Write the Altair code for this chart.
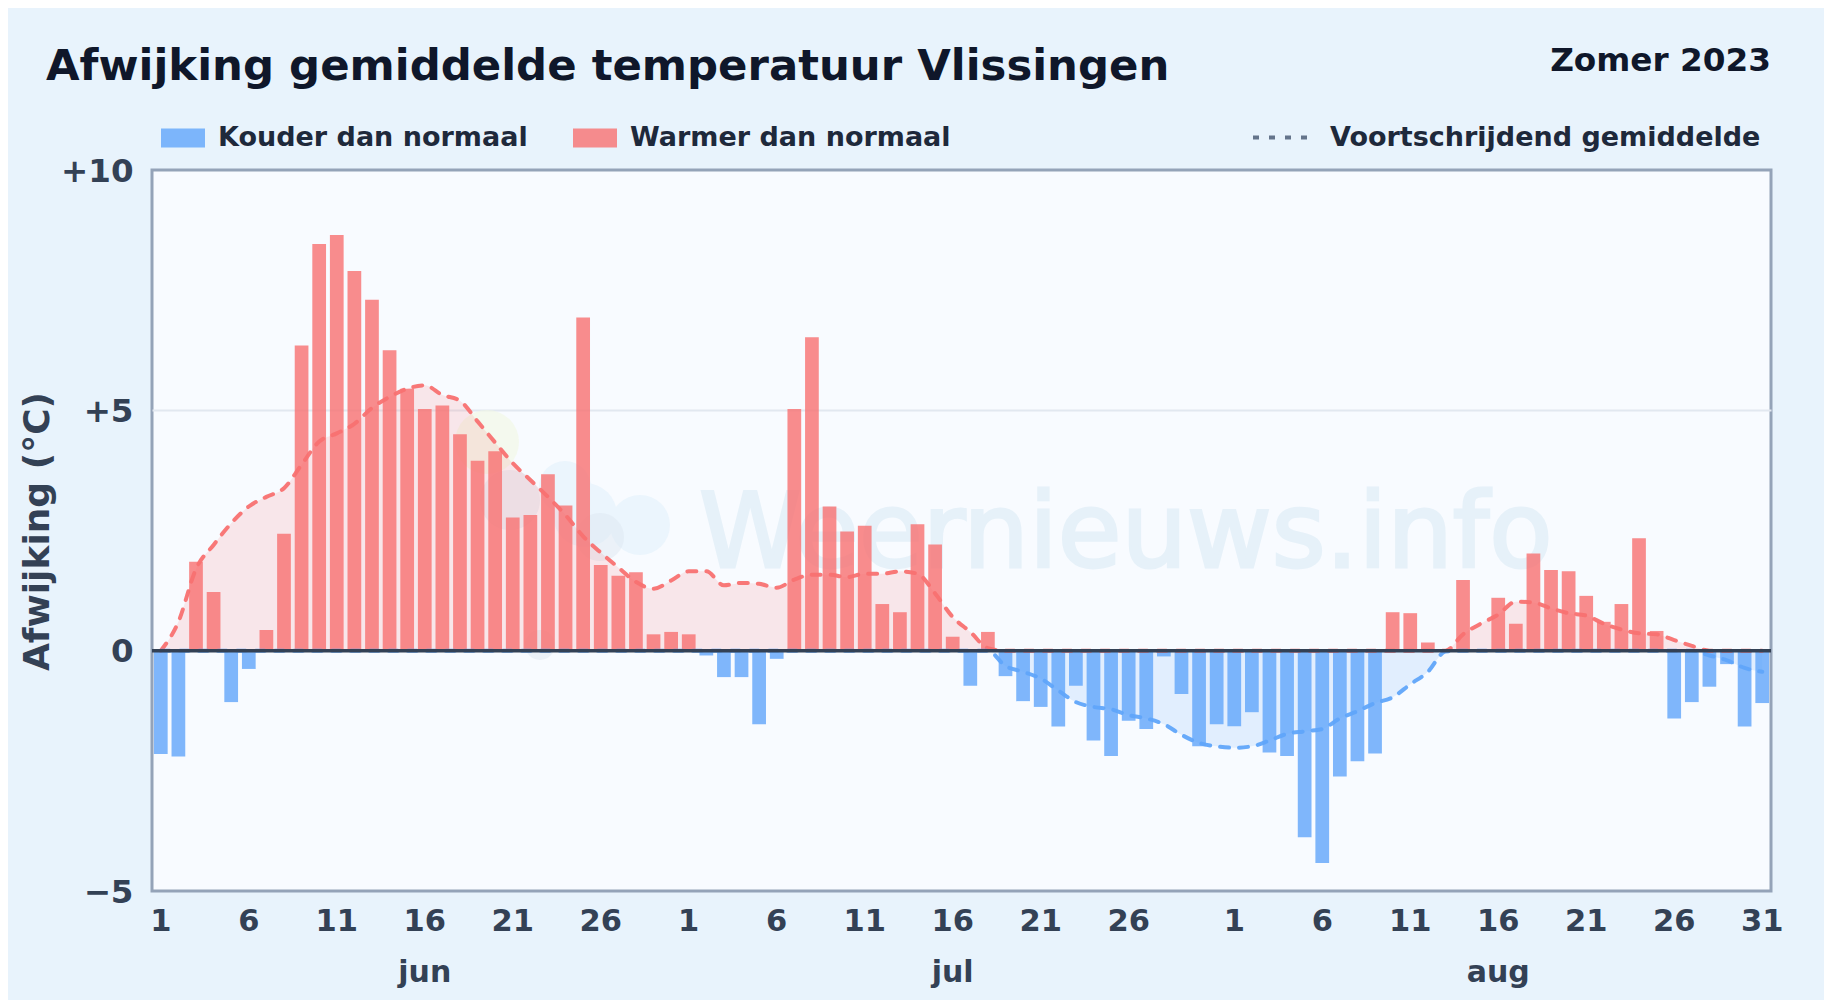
import altair as alt
import pandas as pd

FONT = "DejaVu Sans"

june = [-2.15, -2.2, 1.85, 1.22, -1.07, -0.38, 0.43, 2.43, 6.35, 8.46, 8.65, 7.9, 7.3, 6.25, 5.45,
        5.03, 5.1, 4.5, 3.95, 4.15, 2.77, 2.82, 3.67, 3.02, 6.93, 1.78, 1.56, 1.63, 0.34, 0.39]
july = [0.34, -0.1, -0.55, -0.55, -1.53, -0.17, 5.03, 6.52, 3.0, 2.48, 2.6, 0.97, 0.8, 2.63, 2.21, 0.29,
        -0.73, 0.39, -0.53, -1.05, -1.17, -1.58, -0.73, -1.87, -2.19, -1.46, -1.63, -0.12, -0.9, -1.99, -1.53]
august = [-1.57, -1.28, -2.12, -2.19, -3.88, -4.42, -2.62, -2.3, -2.14, 0.8, 0.78, 0.17, 0.0, 1.47, 0.0, 1.1,
          0.56, 2.02, 1.68, 1.65, 1.14, 0.6, 0.97, 2.34, 0.41, -1.41, -1.07, -0.75, -0.28, -1.58, -1.09]
ma_june = [0.0, 0.6, 1.7, 2.2, 2.65, 3.0, 3.2, 3.38, 3.87, 4.35, 4.52, 4.72, 5.05, 5.28, 5.45,
           5.52, 5.32, 5.2, 4.77, 4.33, 3.9, 3.55, 3.2, 2.82, 2.38, 2.04, 1.73, 1.43, 1.29, 1.46]
ma_july = [1.65, 1.65, 1.36, 1.41, 1.39, 1.31, 1.48, 1.58, 1.58, 1.53, 1.6, 1.6, 1.65, 1.6, 1.19, 0.7,
           0.39, 0.05, -0.32, -0.44, -0.58, -0.83, -1.07, -1.17, -1.22, -1.34, -1.41, -1.53, -1.75, -1.92, -1.99]
ma_august = [-2.02, -1.99, -1.87, -1.73, -1.68, -1.63, -1.41, -1.26, -1.09, -0.97, -0.7, -0.44, -0.02, 0.34, 0.56,
             0.75, 1.02, 1.0, 0.88, 0.78, 0.73, 0.56, 0.44, 0.36, 0.34, 0.22, 0.1, -0.1, -0.2, -0.36, -0.44]
month_names = ["jun", "jul", "aug"]
month_lengths = [30, 31, 31]
legend_bars = ["Kouder dan normaal", "Warmer dan normaal"]
legend_line = "Voortschrijdend gemiddelde"

keys, values, ma = [], [], []
for m, n, vals, avg in zip(month_names, month_lengths, [june, july, august], [ma_june, ma_july, ma_august]):
    for d in range(n):
        keys.append(f"{m}-{d + 1}")
    values += vals
    ma += avg

df = pd.DataFrame({"day": keys, "value": values, "ma": ma})
df["kind"] = [legend_bars[1] if v >= 0 else legend_bars[0] for v in values]
df["ma_pos"] = df["ma"].clip(lower=0)
df["ma_neg"] = df["ma"].clip(upper=0)
df["series"] = legend_line

tick_keys = [k for k in keys if (int(k.split("-")[1]) - 1) % 5 == 0 and not (k == "jul-31")]
months_df = pd.DataFrame({"day": [f"{m}-16" for m in month_names], "label": month_names})

RED, BLUE = "#f87171", "#60a5fa"
LABEL = "#334155"

x_scale = alt.Scale(type="band", domain=keys, paddingInner=0.22, paddingOuter=0.11)
y_scale = alt.Scale(domain=[-5, 10], nice=False)
x_axis = alt.Axis(
    values=tick_keys, labelExpr="split(datum.value, '-')[1]", labelAngle=0, labelOverlap=False,
    labelFlush=False, ticks=False, domain=False, grid=False, labelPadding=15,
    labelFontSize=30.5, labelFont=FONT, labelFontWeight="bold", labelColor=LABEL)
y_axis = alt.Axis(
    values=[-5, 0, 5, 10],
    labelExpr="datum.value > 0 ? '+' + datum.value : (datum.value < 0 ? '\u2212' + abs(datum.value) : '0')",
    ticks=False, domain=False, grid=True,
    gridColor=alt.condition("datum.value == 5", alt.value("#e2e8f0"), alt.value("transparent")),
    gridWidth=2, labelPadding=19, labelOffset=1,
    labelFontSize=32.5, labelFont=FONT, labelFontWeight="bold", labelColor=LABEL,
    titleFont=FONT, titleFontSize=36, titleFontWeight="bold", titleColor=LABEL,
    titleX=-96, titleY=361, titleAnchor="middle")
X = alt.X("day:N", scale=x_scale, axis=x_axis, title=None)
Y_TITLE = "Afwijking (°C)"


def Y(field):
    return alt.Y(field, scale=y_scale, axis=y_axis, title=Y_TITLE)


base = alt.Chart(df)

# plot-area offset used for the decorative watermark and headers
PX, PY = 152, 170


def deco(text, x, y, size, color, align="left", **kw):
    return alt.Chart(pd.DataFrame({"t": [text]})).mark_text(
        font=FONT, fontSize=size, color=color, align=align, baseline="alphabetic", clip=False, **kw
    ).encode(text="t:N", x=alt.value(x - PX), y=alt.value(y - PY))


blobs = pd.DataFrame({
    "px": [487, 565, 585, 640, 510, 600, 540],
    "py": [442, 487, 515, 525, 500, 537, 645],
    "r": [32, 26, 32, 30, 30, 24, 15],
    "c": ["sun", "cloud", "cloud", "cloud", "grey", "grey", "grey"],
})
logo_layers = []
for kind, col, op in [("sun", "#f2f8e2", 0.6), ("cloud", "#ebf5fd", 1.0), ("grey", "#dde8f2", 0.5)]:
    for _, b in blobs[blobs.c == kind].iterrows():
        logo_layers.append(
            alt.Chart(pd.DataFrame({"a": [1]})).mark_point(
                filled=True, shape="circle", color=col, opacity=op, size=(2 * b.r) ** 2
            ).encode(x=alt.value(int(b.px) - PX), y=alt.value(int(b.py) - PY))
        )

watermark = deco("Weernieuws.info", 699, 567, 103.5, "#e6f1f9", stroke="#e6f1f9", strokeWidth=3)

area_pos = base.mark_area(color=RED, opacity=0.15, interpolate="monotone").encode(
    x=X, y=Y("ma_pos:Q"), y2=alt.datum(0))
area_neg = base.mark_area(color=BLUE, opacity=0.15, interpolate="monotone").encode(
    x=X, y=Y("ma_neg:Q"), y2=alt.datum(0))

bars = base.mark_bar(opacity=0.8).encode(
    x=X, y=Y("value:Q"),
    color=alt.Color("kind:N", scale=alt.Scale(domain=legend_bars, range=[BLUE, RED]), title=None,
                    legend=alt.Legend(orient="none", legendX=9, legendY=-54, direction="horizontal",
                                      symbolType="M-1,-0.43H1V0.43H-1Z", symbolSize=1936, symbolOpacity=0.8,
                                      symbolStrokeWidth=0, labelFont=FONT, labelFontSize=27,
                                      labelFontWeight="bold", labelColor="#1e293b", labelOffset=13,
                                      columnPadding=45, title=None, labelLimit=0, padding=0)),
)

line_pos = base.mark_line(color=RED, strokeWidth=4, strokeDash=[9, 10], strokeCap="round",
                          interpolate="monotone", opacity=0.95).encode(x=X, y=Y("ma_pos:Q"))
line_neg = base.mark_line(color=BLUE, strokeWidth=4, strokeDash=[9, 10], strokeCap="round",
                          interpolate="monotone", opacity=0.95).encode(x=X, y=Y("ma_neg:Q"))

legend_dummy = base.mark_line(opacity=0).encode(
    x=X, y=Y("ma:Q"),
    strokeDash=alt.StrokeDash("series:N", title=None,
                              scale=alt.Scale(domain=[legend_line], range=[[6, 10]]),
                              legend=alt.Legend(orient="none", legendX=1099, legendY=-62,
                                                symbolType="stroke", symbolSize=3025,
                                                symbolStrokeColor="#64748b", symbolStrokeWidth=4,
                                                symbolOpacity=1, labelFont=FONT, labelFontSize=27,
                                                labelFontWeight="bold", labelColor="#1e293b",
                                                labelOffset=20, title=None, labelLimit=0, padding=0)),
)

zero = alt.Chart(pd.DataFrame({"y": [0]})).mark_rule(color=LABEL, strokeWidth=3.5).encode(y=Y("y:Q"))

month_text = alt.Chart(months_df).mark_text(
    font=FONT, fontSize=30, fontWeight="bold", color=LABEL, baseline="alphabetic"
).encode(x=X, y=alt.value(982 - PY), text="label:N")

title = deco("Afwijking gemiddelde temperatuur Vlissingen", 46, 80, 43.4, "#0f172a", fontWeight="bold")
zomer = deco("Zomer 2023", 1771, 71, 32.7, "#0f172a", align="right", fontWeight="bold")

chart = alt.layer(
    *logo_layers, watermark, area_pos, area_neg, bars, line_pos, line_neg, legend_dummy, zero,
    month_text, title, zomer
).resolve_scale(color="independent", strokeDash="independent").properties(
    width=1619, height=721,
    autosize=alt.AutoSizeParams(type="none"),
    padding={"left": 144, "top": 162, "right": 53, "bottom": 109},
    background="#e8f3fc",
).configure_view(stroke="#94a3b8", strokeWidth=3, fill="#f8fbff")

chart.save("out.html", embed_options={"renderer": "svg", "actions": False})
